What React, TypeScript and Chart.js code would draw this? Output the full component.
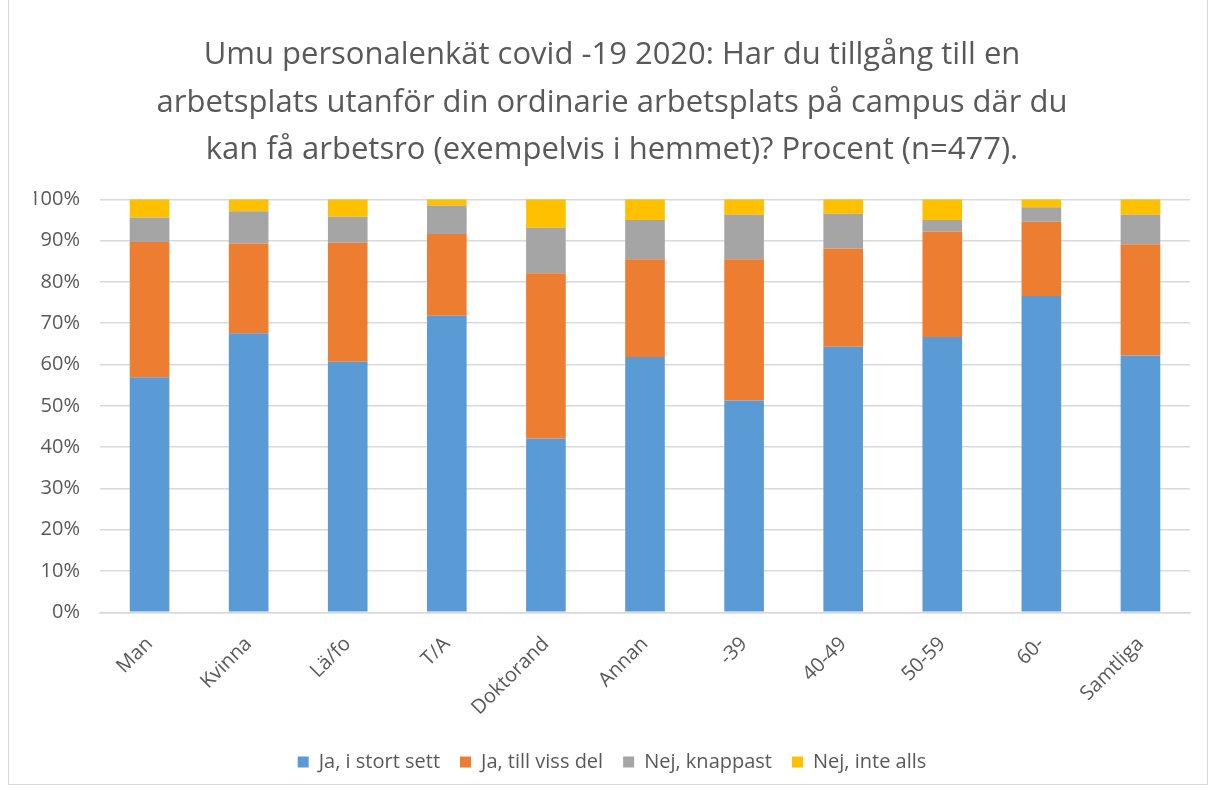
import React, { useEffect, useRef } from "react";
import { Chart, registerables } from "chart.js";

Chart.register(...registerables);

const categories = ["Man", "Kvinna", "Lä/fo", "T/A", "Doktorand", "Annan", "-39", "40-49", "50-59", "60-", "Samtliga"];
const jaStortSett = [56.9, 67.6, 60.7, 71.8, 42.1, 61.8, 51.3, 64.3, 66.7, 76.6, 62.2];
const jaVissDel = [32.8, 21.7, 28.8, 19.8, 40.0, 23.7, 34.2, 23.8, 25.5, 18.0, 26.9];
const nejKnappast = [5.9, 7.8, 6.3, 6.9, 11.0, 9.5, 10.8, 8.4, 2.8, 3.5, 7.2];
const nejInteAlls = [4.4, 2.9, 4.2, 1.5, 6.9, 5.0, 3.7, 3.5, 5.0, 1.9, 3.7];
const seriesNames = ["Ja, i stort sett", "Ja, till viss del", "Nej, knappast", "Nej, inte alls"];
const titleLines = [
  "Umu personalenkät covid -19 2020: Har du tillgång till en",
  "arbetsplats utanför din ordinarie arbetsplats på campus där du",
  "kan få arbetsro (exempelvis i hemmet)? Procent (n=477).",
];

export default function App() {
  const ref = useRef<HTMLCanvasElement>(null);
  useEffect(() => {
    if (!ref.current) return;
    const font = "'Open Sans', 'Liberation Sans', sans-serif";
    const colors = ["#5b9bd5", "#ed7d31", "#a5a5a5", "#ffc000"];
    const data = [jaStortSett, jaVissDel, nejKnappast, nejInteAlls];
    const chart = new Chart(ref.current, {
      type: "bar",
      data: {
        labels: categories,
        datasets: data.map((d, i) => ({
          label: seriesNames[i],
          data: d,
          backgroundColor: colors[i],
          borderWidth: 0,
          barPercentage: 0.4,
          categoryPercentage: 1,
        })),
      },
      options: {
        animation: false,
        responsive: false,
        maintainAspectRatio: false,
        layout: { padding: { left: 34, right: 26, top: 8, bottom: 8 } },
        plugins: {
          title: {
            display: true,
            text: titleLines,
            color: "#595959",
            font: { family: font, size: 31, weight: "normal", lineHeight: 1.52 },
            padding: { top: 24, bottom: 26 },
          },
          legend: {
            position: "bottom",
            labels: {
              color: "#595959",
              font: { family: font, size: 20 },
              boxWidth: 11,
              boxHeight: 11,
              padding: 20,
            },
          },
          tooltip: { enabled: false },
        },
        scales: {
          x: {
            stacked: true,
            grid: { display: false },
            border: { color: "#d9d9d9", width: 1.5 },
            ticks: {
              color: "#595959",
              font: { family: font, size: 20 },
              maxRotation: 45,
              minRotation: 45,
              padding: 12,
            },
          },
          y: {
            stacked: true,
            min: 0,
            max: 100,
            grid: { color: "#d9d9d9", lineWidth: 1.5, drawTicks: false },
            border: { display: false },
            afterFit: (scale: any) => {
              scale.width = 66;
            },
            ticks: {
              stepSize: 10,
              color: "#595959",
              font: { family: font, size: 20 },
              padding: 20,
              callback: (v: any) => v + "%",
            },
          },
        },
      },
    });
    return () => chart.destroy();
  }, []);
  return (
    <div style={{ position: "fixed", left: 0, top: 0, width: 1216, height: 790, background: "#fff" }}>
      <div style={{ position: "absolute", left: 8, top: 0, width: 1200, height: 785, border: "1px solid #d9d9d9", borderTop: "none", boxSizing: "border-box" }} />
      <canvas ref={ref} width={1216} height={790} style={{ position: "absolute", left: 0, top: 0 }} />
    </div>
  );
}
